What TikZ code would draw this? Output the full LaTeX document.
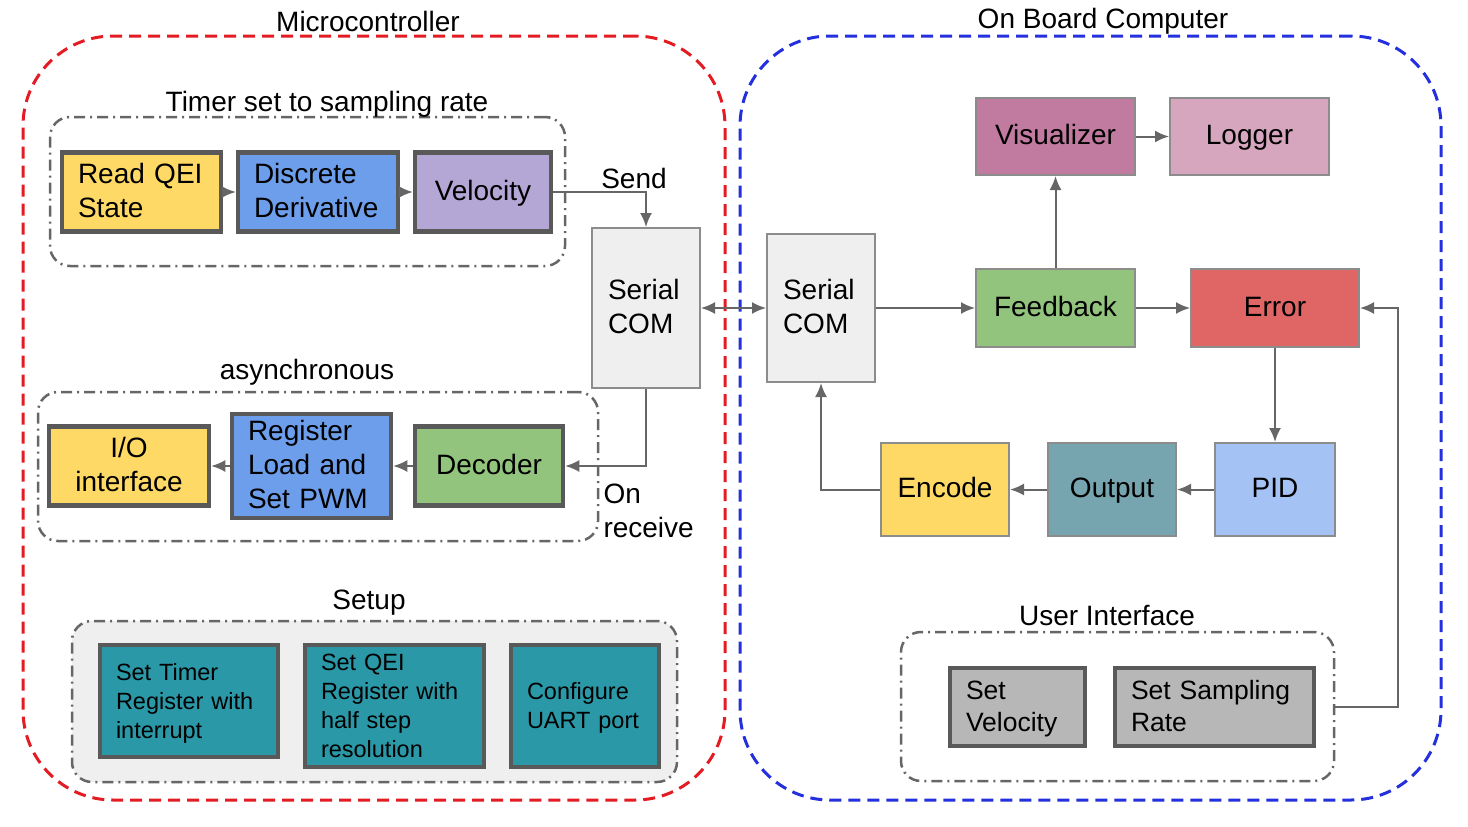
\documentclass[tikz,border=0pt]{standalone}
\usepackage{fontspec}
\usetikzlibrary{arrows.meta}
\setmainfont{Liberation Sans}
\definecolor{red}{HTML}{E31B23}
\definecolor{blue}{HTML}{2430DD}
\definecolor{qeiyellow}{HTML}{FFD966}
\definecolor{derivblue}{HTML}{6D9EEB}
\definecolor{velpurple}{HTML}{B4A7D6}
\definecolor{decgreen}{HTML}{93C47D}
\definecolor{comgray}{HTML}{EFEFEF}
\definecolor{vismagenta}{HTML}{C27BA0}
\definecolor{logpink}{HTML}{D5A6BD}
\definecolor{errred}{HTML}{E06666}
\definecolor{outteal}{HTML}{76A5AF}
\definecolor{pidblue}{HTML}{A4C2F4}
\definecolor{setupteal}{HTML}{2A98A7}
\definecolor{uigray}{HTML}{B7B7B7}
\definecolor{thickline}{HTML}{595959}
\definecolor{thinline}{HTML}{8C8C8C}
\definecolor{wire}{HTML}{666666}
\newcommand{\topstrut}{\rule{0pt}{22pt}}
\newcommand{\botstrut}{\rule[-6pt]{0pt}{6pt}}

\begin{document}
\begin{tikzpicture}[x=1pt,y=-1pt,>={Latex[length=14pt,width=12pt]}]
		\tikzstyle{every node}=[font=\fontsize{28}{34}\selectfont]
		\tikzstyle{container}=[draw,line width=3pt,dash pattern=on 12pt off 7pt,rounded corners=90pt]
		\tikzstyle{grp}=[draw=wire,line width=2.5pt,dash pattern=on 11pt off 5pt on 2pt off 5pt,rounded corners=20pt,inner sep=0pt]
		\tikzstyle{blk}=[draw=thickline,line width=4.5pt,inner xsep=16pt,inner ysep=0pt,execute at begin node=\topstrut,execute at end node=\botstrut]
		\tikzstyle{box}=[draw=thinline,line width=2pt,inner xsep=16pt,inner ysep=0pt,execute at begin node=\topstrut,execute at end node=\botstrut]
		\tikzstyle{wired}=[draw=wire,line width=2pt]
		\useasboundingbox (0,0) rectangle (1468,827);

		% containers
		\node (mcu) at (374,418) [container,draw=red,minimum width=702,minimum height=764] {};
		\node (obc) at (1090.5,418) [container,draw=blue,minimum width=701,minimum height=764] {};
		\node (mcutitle) at (368,21) {Microcontroller};
		\node (obctitle) at (1103,21) {On Board Computer};

		% groups
		\node (timer) at (307.5,191.5) [grp,minimum width=515,minimum height=149] {};
		\node (async) at (318,466.5) [grp,minimum width=560,minimum height=149] {};
		\node (setup) at (374.5,701.5) [grp,fill=comgray,minimum width=605,minimum height=161] {};
		\node (ui) at (1117.5,706.5) [grp,minimum width=433,minimum height=149] {};
		\node (timertitle) at (327,104) {Timer set to sampling rate};
		\node (asynctitle) at (307,372) {asynchronous};
		\node (setuptitle) at (369,603) {Setup};
		\node (uititle) at (1107,616) {User Interface};

		% microcontroller blocks
		\node (rqei) at (141.5,192) [blk,fill=qeiyellow,minimum height=79,text width=127,align=left] {Read QEI\\State};
		\node (dder) at (318,192) [blk,fill=derivblue,minimum height=79,text width=128,align=left] {Discrete\\Derivative};
		\node (vel) at (483,192) [blk,fill=velpurple,minimum height=79,text width=104,align=center] {Velocity};
		\node (serl) at (646,308) [box,fill=comgray,minimum height=160,text width=76,align=left] {Serial\\COM};
		\node (io) at (129,466) [blk,fill=qeiyellow,minimum height=79,text width=128,align=center] {I/O\\interface};
		\node (reg) at (311.5,466) [blk,fill=derivblue,minimum height=104,text width=127,align=left] {Register\\Load and\\Set PWM};
		\node (dec) at (489,466) [blk,fill=decgreen,minimum height=79,text width=116,align=center] {Decoder};
		\node (stim) at (189,701) [blk,fill=setupteal,minimum height=112,text width=146,align=left,font=\fontsize{23.5}{29}\selectfont] {Set Timer\\Register with\\interrupt};
		\node (sqei) at (394.5,706) [blk,fill=setupteal,minimum height=122,text width=147,align=left,font=\fontsize{23.5}{29}\selectfont] {Set QEI\\Register with\\half step\\resolution};
		\node (suart) at (585,706) [blk,fill=setupteal,minimum height=122,text width=116,align=left,font=\fontsize{23.5}{29}\selectfont] {Configure\\UART port};

		% on board computer blocks
		\node (serr) at (821,308) [box,fill=comgray,minimum height=148,text width=76,align=left] {Serial\\COM};
		\node (vis) at (1055.5,136.5) [box,fill=vismagenta,minimum height=77,text width=127,align=center] {Visualizer};
		\node (log) at (1249.5,136.5) [box,fill=logpink,minimum height=77,text width=127,align=center] {Logger};
		\node (fb) at (1055.5,308) [box,fill=decgreen,minimum height=78,text width=127,align=center] {Feedback};
		\node (err) at (1275,308) [box,fill=errred,minimum height=78,text width=136,align=center] {Error};
		\node (enc) at (945,489.5) [box,fill=qeiyellow,minimum height=93,text width=96,align=center] {Encode};
		\node (out) at (1112,489.5) [box,fill=outteal,minimum height=93,text width=96,align=center] {Output};
		\node (pid) at (1275,489.5) [box,fill=pidblue,minimum height=93,text width=88,align=center] {PID};
		\node (svel) at (1017.5,707) [blk,fill=uigray,minimum height=78,text width=103,align=left,font=\fontsize{26.5}{32}\selectfont] {Set\\Velocity};
		\node (ssr) at (1214.5,707) [blk,fill=uigray,minimum height=78,text width=167,align=left,font=\fontsize{26.5}{32}\selectfont] {Set Sampling\\Rate};

		% connectors
		\tikzstyle{every edge}=[wired]
		\path [->] (rqei) edge (dder);
		\path [->] (dder) edge (vel);
		\draw [->,wired] (vel) -| (serl);
		\node (send) at (634,178) {Send};
		\path [<->] (serl) edge (serr);
		\draw [->,wired] (serl) |- (dec);
		\node (onrecv) at (600,511) [anchor=west,align=left] {On\\receive};
		\path [->] (dec) edge (reg);
		\path [->] (reg) edge (io);

		\path [->] (serr) edge (fb);
		\path [->] (fb) edge (err);
		\path [->] (fb) edge (vis);
		\path [->] (vis) edge (log);
		\path [->] (err) edge (pid);
		\path [->] (pid) edge (out);
		\path [->] (out) edge (enc);
		\draw [->,wired] (enc) -| (serr);
		\coordinate (uiturn) at (1398,706.5);
		\draw [->,wired] (ui) -- (uiturn) |- (err);
	\end{tikzpicture}
\end{document}
